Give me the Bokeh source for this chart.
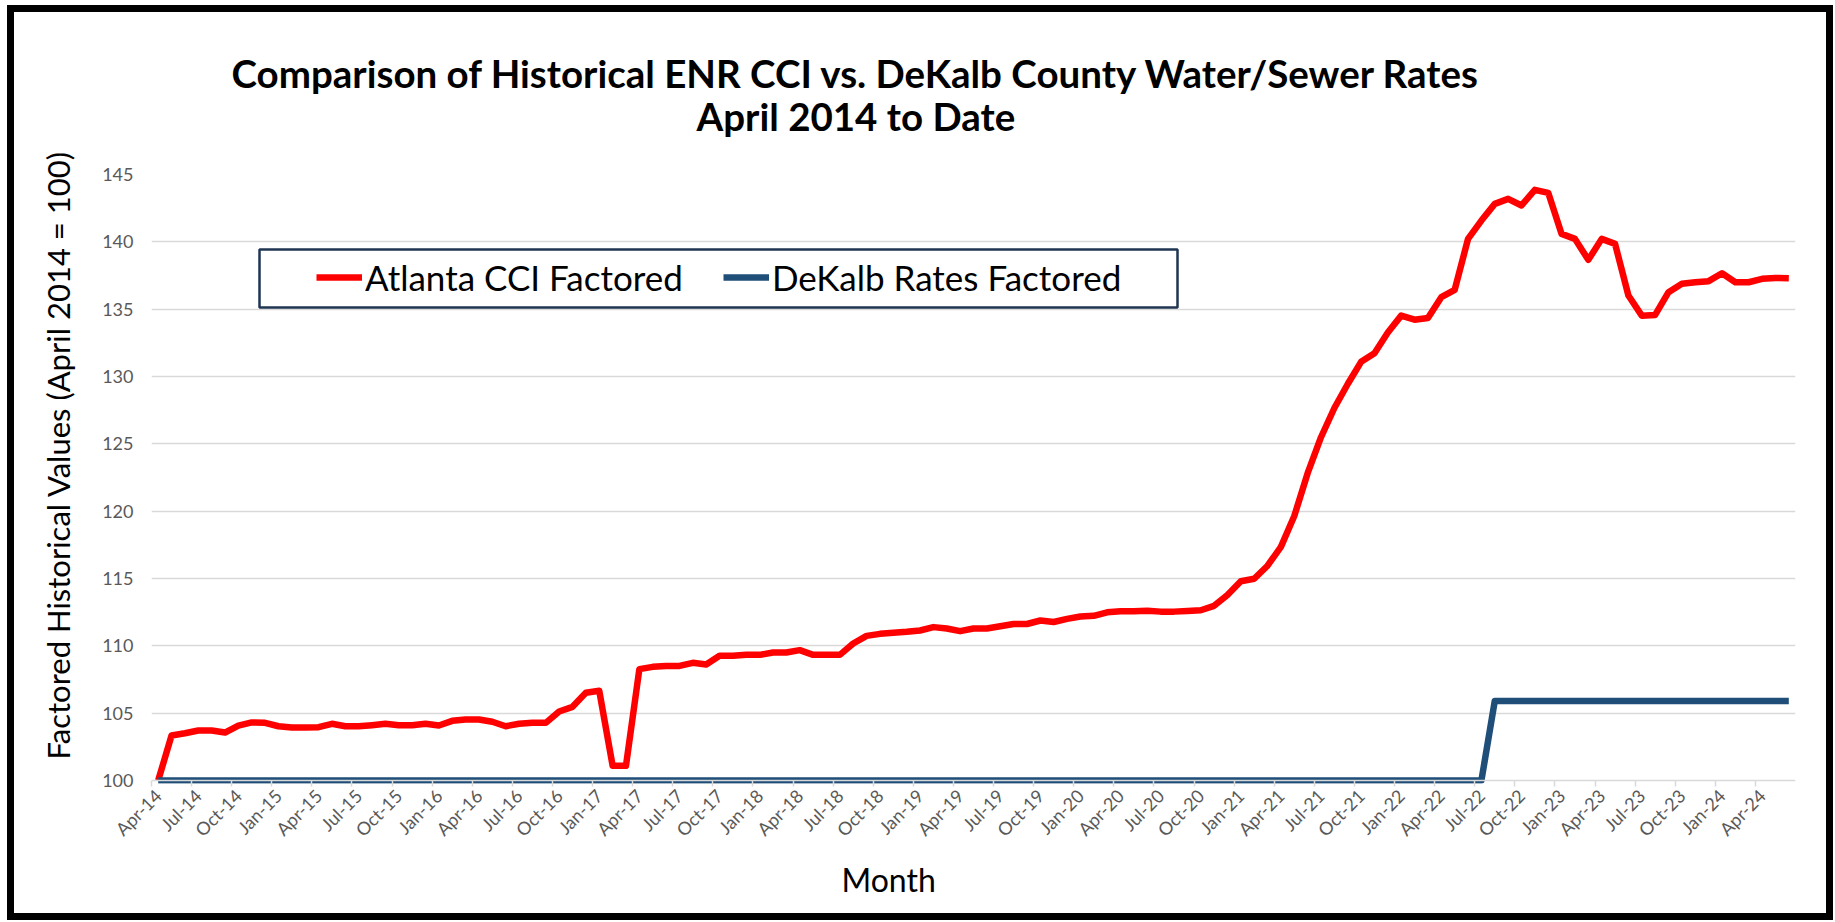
import pandas as pd
from math import pi
from bokeh.plotting import figure
from bokeh.models import (ColumnDataSource, FixedTicker, Legend, LegendItem,
                          Range1d, BoxAnnotation, Title, Span)
from bokeh.embed import file_html
from bokeh.resources import INLINE

# ---------------- data ----------------
months = pd.date_range("2014-04-01", periods=123, freq="MS").strftime("%b-%y").tolist()
month_index = list(range(len(months)))

atlanta_cci = [
    100.00, 103.34, 103.51, 103.71, 103.71, 103.56, 104.08, 104.31, 104.28, 104.03,
    103.94, 103.94, 103.96, 104.21, 104.03, 104.03, 104.11, 104.21, 104.11, 104.11,
    104.21, 104.08, 104.43, 104.53, 104.53, 104.36, 104.03, 104.21, 104.28, 104.28,
    105.12, 105.47, 106.51, 106.66, 101.10, 101.10, 108.27, 108.44, 108.51, 108.51,
    108.74, 108.61, 109.26, 109.26, 109.33, 109.33, 109.50, 109.50, 109.68, 109.33,
    109.33, 109.33, 110.17, 110.74, 110.89, 110.97, 111.04, 111.14, 111.39, 111.29,
    111.09, 111.29, 111.29, 111.45, 111.62, 111.62, 111.88, 111.77, 112.00, 112.18,
    112.23, 112.49, 112.56, 112.56, 112.61, 112.54, 112.54, 112.59, 112.64, 112.97,
    113.78, 114.80, 114.98, 115.95, 117.35, 119.64, 122.82, 125.49, 127.66, 129.44,
    131.09, 131.73, 133.26, 134.52, 134.22, 134.35, 135.89, 136.43, 140.22, 141.58,
    142.82, 143.19, 142.70, 143.86, 143.64, 140.59, 140.22, 138.66, 140.22, 139.85,
    136.01, 134.52, 134.57, 136.26, 136.88, 137.00, 137.08, 137.67, 137.00, 137.00,
    137.25, 137.32, 137.30,
]

dekalb_rates = [
    100.0, 100.0, 100.0, 100.0, 100.0, 100.0, 100.0, 100.0, 100.0, 100.0,
    100.0, 100.0, 100.0, 100.0, 100.0, 100.0, 100.0, 100.0, 100.0, 100.0,
    100.0, 100.0, 100.0, 100.0, 100.0, 100.0, 100.0, 100.0, 100.0, 100.0,
    100.0, 100.0, 100.0, 100.0, 100.0, 100.0, 100.0, 100.0, 100.0, 100.0,
    100.0, 100.0, 100.0, 100.0, 100.0, 100.0, 100.0, 100.0, 100.0, 100.0,
    100.0, 100.0, 100.0, 100.0, 100.0, 100.0, 100.0, 100.0, 100.0, 100.0,
    100.0, 100.0, 100.0, 100.0, 100.0, 100.0, 100.0, 100.0, 100.0, 100.0,
    100.0, 100.0, 100.0, 100.0, 100.0, 100.0, 100.0, 100.0, 100.0, 100.0,
    100.0, 100.0, 100.0, 100.0, 100.0, 100.0, 100.0, 100.0, 100.0, 100.0,
    100.0, 100.0, 100.0, 100.0, 100.0, 100.0, 100.0, 100.0, 100.0, 100.0,
    105.9, 105.9, 105.9, 105.9, 105.9, 105.9, 105.9, 105.9, 105.9, 105.9,
    105.9, 105.9, 105.9, 105.9, 105.9, 105.9, 105.9, 105.9, 105.9, 105.9,
    105.9, 105.9, 105.9,
]

y_ticks = [100, 105, 110, 115, 120, 125, 130, 135, 140, 145]
label_positions = month_index[::3]
tick_labels = months[::3]
tick_mark_positions = [i - 0.5 for i in label_positions]

title_line1 = "Comparison of Historical ENR CCI vs. DeKalb County Water/Sewer Rates"
title_line2 = "April 2014 to Date"
y_title = "Factored Historical Values (April 2014 = 100)"
x_title = "Month"
series_names = ["Atlanta CCI Factored", "DeKalb Rates Factored"]

FONT = "Lato"
RED = "#FF0000"
BLUE = "#1F4E79"
GRID = "#D9D9D9"
TICK_TXT = "#595959"

# ---------------- figure ----------------
W, H = 1812, 901
p = figure(width=W, height=H,
           x_range=Range1d(-0.5, len(months) - 0.5),
           y_range=Range1d(100 - 3 / 13.467, 145),
           output_backend="svg", toolbar_location=None,
           min_border_left=137, min_border_right=45,
           min_border_top=162, min_border_bottom=144)
p.styles = {"border": "7px solid black", "box-sizing": "content-box",
            "margin-left": "7px", "margin-top": "5px"}
p.outline_line_color = None
p.background_fill_color = "white"
p.border_fill_color = "white"

# titles: p.title is the outer line, the added one sits next to the frame
p.title = Title(text=title_line1, align="left", offset=80, standoff=-80,
                text_font=FONT, text_font_size="38.5px", text_font_style="bold",
                text_color="black")
p.add_layout(Title(text=title_line2, align="left", offset=545, standoff=71,
                   text_font=FONT, text_font_size="38.5px", text_font_style="bold",
                   text_color="black"), "above")

# y axis
p.yaxis.ticker = FixedTicker(ticks=y_ticks)
p.yaxis.axis_line_color = None
p.yaxis.major_tick_line_color = None
p.yaxis.minor_tick_line_color = None
p.yaxis.major_tick_out = 0
p.yaxis.major_tick_in = 0
p.yaxis.major_label_standoff = 18
p.yaxis.major_label_text_font = FONT
p.yaxis.major_label_text_font_size = "18px"
p.yaxis.major_label_text_color = TICK_TXT
p.add_layout(Title(text=y_title, align="left", offset=24, standoff=45,
                   text_font=FONT, text_font_size="31px", text_font_style="normal",
                   text_color="black"), "left")

p.ygrid.ticker = FixedTicker(ticks=y_ticks[1:])
p.ygrid.grid_line_color = GRID
p.ygrid.grid_line_width = 1.5
p.xgrid.grid_line_color = None

# x axis
p.xaxis.ticker = FixedTicker(ticks=label_positions, minor_ticks=tick_mark_positions)
p.xaxis.major_label_overrides = {pos: lab for pos, lab in zip(label_positions, tick_labels)}
p.xaxis.major_label_orientation = pi / 4
p.xaxis.major_tick_line_color = None
p.xaxis.major_tick_out = 0
p.xaxis.major_tick_in = 0
p.xaxis.minor_tick_line_color = GRID
p.xaxis.minor_tick_line_width = 1.5
p.xaxis.minor_tick_in = 3
p.xaxis.minor_tick_out = 3
p.xaxis.axis_line_color = None
p.xaxis.major_label_standoff = 6
p.xaxis.major_label_text_font = FONT
p.xaxis.major_label_text_font_size = "18px"
p.xaxis.major_label_text_color = TICK_TXT
p.add_layout(Title(text=x_title, align="left", offset=690, standoff=16,
                   vertical_align="top",
                   text_font=FONT, text_font_size="32px", text_font_style="normal",
                   text_color="black"), "below")

# category axis line at 100
p.add_layout(Span(location=100, dimension="width", line_color=GRID, line_width=1.5))

# ---------------- series ----------------
src = ColumnDataSource(dict(x=month_index, cci=atlanta_cci, dek=dekalb_rates))
r1 = p.line("x", "cci", source=src, line_color=RED, line_width=6.5, line_join="round")
r2 = p.line("x", "dek", source=src, line_color=BLUE, line_width=6.5, line_join="round")

# ---------------- legend ----------------
p.add_layout(BoxAnnotation(left=238, right=1156, top=230, bottom=288,
                           left_units="canvas", right_units="canvas",
                           top_units="canvas", bottom_units="canvas",
                           fill_alpha=0, line_color="#1F3552", line_alpha=1.0,
                           line_width=2.5))
legend = Legend(items=[LegendItem(label=series_names[0], renderers=[r1]),
                       LegendItem(label=series_names[1], renderers=[r2])],
                orientation="horizontal", location=(165, 485),
                padding=0, margin=0, spacing=40, label_standoff=3,
                glyph_width=46, glyph_height=40,
                label_text_font=FONT, label_text_font_size="35px",
                label_text_color="black",
                border_line_color=None, background_fill_alpha=0)
p.add_layout(legend, "center")

open("out.html", "w").write(file_html(p, INLINE))
